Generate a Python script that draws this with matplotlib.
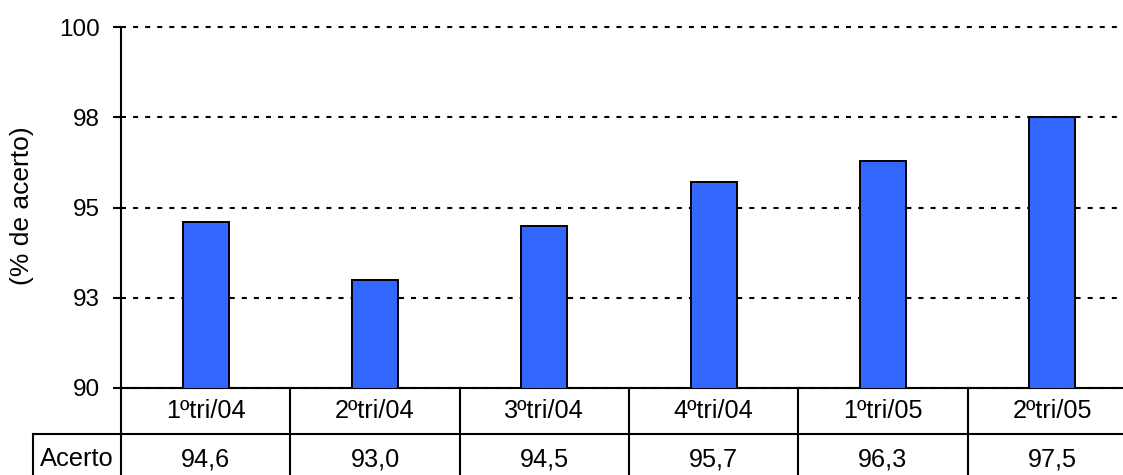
import matplotlib.pyplot as plt
from matplotlib.transforms import blended_transform_factory

plt.rcParams['font.family'] = ['Liberation Sans', 'DejaVu Sans']

trimestres = ['1ºtri/04', '2ºtri/04', '3ºtri/04', '4ºtri/04', '1ºtri/05', '2ºtri/05']
acerto = [94.6, 93.0, 94.5, 95.7, 96.3, 97.5]
y_ticks = [90, 92.5, 95, 97.5, 100]
y_labels = ['90', '93', '95', '98', '100']

fig = plt.figure(figsize=(11.23, 4.75), dpi=100)
ax = fig.add_axes([121 / 1123, 1 - 388 / 475, 1016 / 1123, 361 / 475])

x = list(range(len(trimestres)))
ax.bar(x, acerto, width=0.27, bottom=0, color='#3366FF', edgecolor='black',
       linewidth=1.4, zorder=3)

ax.set_xlim(-0.5, len(trimestres) - 0.5)
ax.set_ylim(90, 100)
ax.set_yticks(y_ticks)
ax.set_yticklabels(y_labels, fontsize=17.5)
ax.set_xticks([])
ax.tick_params(axis='y', direction='out', length=6, width=1.5, pad=9)
fig.text(22 / 1123, 1 - 206 / 475, '(% de acerto)', rotation=90,
         ha='center', va='center', fontsize=19)

for s in ['top', 'right']:
    ax.spines[s].set_visible(False)
for s in ['left', 'bottom']:
    ax.spines[s].set_linewidth(1.5)

ax.yaxis.grid(True, color='black', linewidth=1.5, linestyle=(0, (2.4, 3.4)), zorder=1)
for gl in ax.get_ygridlines():
    gl.set_clip_on(False)

# tabela de dados abaixo do eixo
row_h = 46 / 361
lab_left = (33 - 121) / 1016
trans = blended_transform_factory(ax.transData, ax.transAxes)
kw = dict(color='black', linewidth=1.5, clip_on=False)

ax.plot([-0.5, -0.5], [0, -2 * row_h], transform=trans, **kw)
for i in range(len(trimestres) - 1):
    ax.plot([i + 0.5, i + 0.5], [0, -2 * row_h], transform=trans, **kw)
ax.plot([lab_left, 1], [-row_h, -row_h], transform=ax.transAxes, **kw)
ax.plot([lab_left, 1], [-2 * row_h, -2 * row_h], transform=ax.transAxes, **kw)
ax.plot([lab_left, lab_left], [-row_h, -2 * row_h], transform=ax.transAxes, **kw)

for i, (t, v) in enumerate(zip(trimestres, acerto)):
    ax.text(i, -row_h / 2, t, transform=trans, ha='center', va='center', fontsize=18.2)
    ax.text(i, -1.55 * row_h, f'{v:.1f}'.replace('.', ','), transform=trans,
            ha='center', va='center', fontsize=18.2)
ax.text(lab_left / 2, -1.55 * row_h, 'Acerto', transform=ax.transAxes,
        ha='center', va='center', fontsize=18.4)

plt.savefig('out.png', dpi=100)
